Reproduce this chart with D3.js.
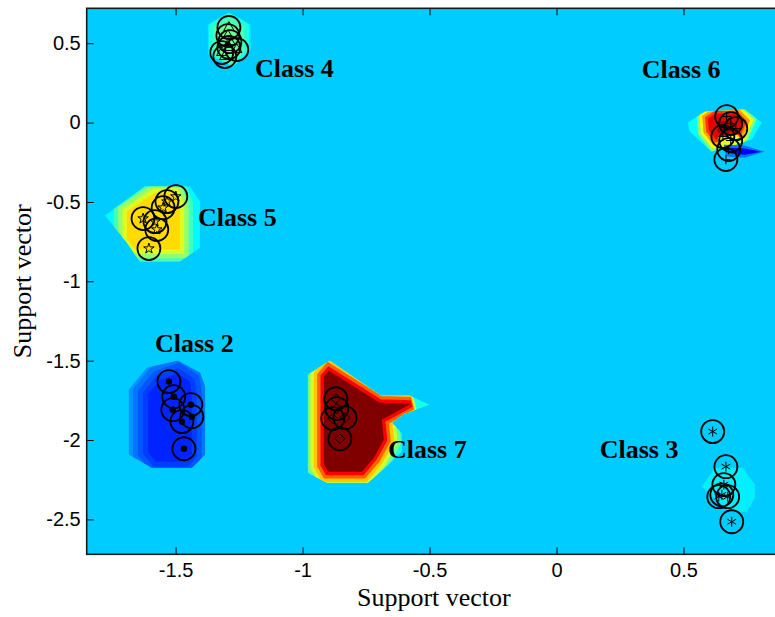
<!DOCTYPE html>
<html>
<head>
<meta charset="utf-8">
<script src="https://cdn.jsdelivr.net/npm/d3@7"></script>
<style>
  body { margin: 0; background: #ffffff; }
  svg { display: block; }
</style>
</head>
<body>
<svg id="chart" width="775" height="617"></svg>
<script>
// ---- axes -------------------------------------------------------------
const xLimits = [-1.85, 0.88];
const yLimits = [-2.72, 0.72];
const xTicks = [-1.5, -1, -0.5, 0, 0.5];
const xTickLabels = ["-1.5", "-1", "-0.5", "0", "0.5"];
const yTicks = [0.5, 0, -0.5, -1, -1.5, -2, -2.5];
const yTickLabels = ["0.5", "0", "-0.5", "-1", "-1.5", "-2", "-2.5"];
const xAxisTitle = "Support vector";
const yAxisTitle = "Support vector";

// ---- decision surface (filled contour levels on the jet map) -----------
const backgroundLevel = 0.325;

const class7Outer = [[-0.893,-1.500],[-0.692,-1.721],[-0.578,-1.721],[-0.500,-1.777],[-0.600,-1.834],
  [-0.648,-1.890],[-0.609,-1.960],[-0.609,-2.074],[-0.684,-2.187],[-0.743,-2.269],[-0.904,-2.269],
  [-0.979,-2.206],[-0.979,-1.588]];
const class7Core = [[-0.896,-1.563],[-0.696,-1.765],[-0.574,-1.771],[-0.637,-1.828],[-0.688,-1.872],
  [-0.680,-1.998],[-0.719,-2.111],[-0.766,-2.200],[-0.900,-2.200],[-0.916,-2.155],[-0.916,-1.601]];
const class7Levels = [0.40, 0.48, 0.58, 0.68, 0.78, 0.88, 1.0];

const class2Outer = [[-1.491,-1.500],[-1.404,-1.576],[-1.384,-1.664],[-1.384,-2.092],[-1.436,-2.174],
  [-1.593,-2.174],[-1.684,-2.092],[-1.684,-1.683],[-1.613,-1.544]];
const class2Core = [[-1.491,-1.582],[-1.444,-1.632],[-1.436,-1.714],[-1.436,-2.092],[-1.459,-2.137],
  [-1.578,-2.137],[-1.609,-2.074],[-1.609,-1.714],[-1.562,-1.620]];
const class2Levels = [0.30, 0.27, 0.24, 0.21, 0.185, 0.16];

const class5Outer = [[-1.778,-0.586],[-1.621,-0.403],[-1.444,-0.403],[-1.404,-0.498],[-1.404,-0.788],
  [-1.483,-0.876],[-1.641,-0.876],[-1.688,-0.763]];
const class5Core = [[-1.692,-0.561],[-1.581,-0.441],[-1.503,-0.441],[-1.483,-0.517],[-1.483,-0.800],
  [-1.660,-0.800],[-1.692,-0.737]];
const class5Levels = [0.37, 0.44, 0.52, 0.59, 0.66];

const class4Outer = [[-1.290,0.693],[-1.204,0.618],[-1.204,0.460],[-1.274,0.353],[-1.373,0.429],[-1.373,0.618]];
const class4Core = [[-1.290,0.637],[-1.247,0.586],[-1.247,0.460],[-1.282,0.397],[-1.333,0.447],[-1.333,0.586]];
const class4Levels = [0.36, 0.41, 0.45, 0.48];

const class6Outer = [[0.517,0.000],[0.584,0.069],[0.741,0.082],[0.808,0.000],[0.769,-0.107],[0.611,-0.183],[0.525,-0.057]];
const class6Core = [[0.596,0.025],[0.627,0.057],[0.706,0.057],[0.737,0.006],[0.714,-0.082],[0.627,-0.107],[0.600,-0.050]];
const class6Levels = [0.38, 0.50, 0.62, 0.72, 0.82, 0.90];
const class6Peak = [[0.635,0.006],[0.690,0.013],[0.706,-0.032],[0.674,-0.069],[0.635,-0.063]];
const class6Saddle = [[0.635,-0.088],[0.714,-0.076],[0.730,-0.120],[0.690,-0.151],[0.643,-0.145]];
const class6TroughOuter = [[0.659,-0.139],[0.741,-0.145],[0.820,-0.183],[0.741,-0.221],[0.667,-0.214]];
const class6Trough = [[0.682,-0.158],[0.741,-0.164],[0.808,-0.183],[0.741,-0.202],[0.686,-0.195]];
const class6ExtraLevels = [0.97, 0.60, 0.24, 0.12];

const class3Outer = [[0.572,-2.294],[0.623,-2.174],[0.733,-2.174],[0.781,-2.281],[0.781,-2.363],[0.749,-2.452],[0.682,-2.452]];
const class3Levels = [0.36];

// ---- support vectors --------------------------------------------------
const class2X = [-1.526, -1.507, -1.440, -1.511, -1.436, -1.475, -1.467];
const class2Y = [-1.632, -1.727, -1.777, -1.809, -1.853, -1.884, -2.055];
const class3X = [0.615, 0.667, 0.659, 0.651, 0.674, 0.639, 0.690];
const class3Y = [-1.947, -2.168, -2.281, -2.345, -2.357, -2.357, -2.515];
const class4X = [-1.290, -1.294, -1.286, -1.290, -1.318, -1.259, -1.306];
const class4Y = [0.599, 0.548, 0.510, 0.473, 0.441, 0.460, 0.416];
const class5X = [-1.499, -1.534, -1.549, -1.628, -1.581, -1.574, -1.605];
const class5Y = [-0.466, -0.498, -0.536, -0.605, -0.624, -0.674, -0.794];
const class6X = [0.670, 0.686, 0.706, 0.655, 0.686, 0.678, 0.667];
const class6Y = [0.038, -0.006, -0.038, -0.088, -0.113, -0.170, -0.233];
const class7X = [-0.869, -0.865, -0.881, -0.833, -0.853];
const class7Y = [-1.740, -1.802, -1.865, -1.859, -1.992];

// ---- class annotations ------------------------------------------------
const classNames = ["Class 4", "Class 6", "Class 5", "Class 2", "Class 7", "Class 3"];
const classLabelX = [-1.187, 0.336, -1.412, -1.581, -0.664, 0.170];
const classLabelY = [0.290, 0.284, -0.649, -1.443, -2.111, -2.111];

// ---------------------------------------------------------------------
const svg = d3.select("#chart");
const frame = { left: 86.7, top: 8.3, right: 780, bottom: 554.3 };

const x = d3.scaleLinear().domain(xLimits).range([frame.left, frame.right]);
const y = d3.scaleLinear().domain(yLimits).range([frame.bottom, frame.top]);

// MATLAB "jet" colormap
const jet = d3.scaleLinear()
  .domain([0, 0.125, 0.375, 0.625, 0.875, 1])
  .range(["#000080", "#0000ff", "#00ffff", "#ffff00", "#ff0000", "#800000"])
  .interpolate(d3.interpolateRgb)
  .clamp(true);

const poly = d3.line().x(d => x(d[0])).y(d => y(d[1])).curve(d3.curveLinearClosed);

const defs = svg.append("defs");
defs.append("clipPath").attr("id", "plot-clip")
  .append("rect")
  .attr("x", frame.left).attr("y", frame.top)
  .attr("width", frame.right - frame.left).attr("height", frame.bottom - frame.top);

const plotArea = svg.append("g").attr("clip-path", "url(#plot-clip)");

plotArea.append("rect")
  .attr("x", frame.left).attr("y", frame.top)
  .attr("width", frame.right - frame.left).attr("height", frame.bottom - frame.top)
  .attr("fill", jet(backgroundLevel));

// Each region: outer contour, inner plateau, and the levels from outside in.
const regions = [
  { id: "c7", outer: class7Outer, core: class7Core, levels: class7Levels, spread: 17 },
  { id: "c2", outer: class2Outer, core: class2Core, levels: class2Levels, spread: 20 },
  { id: "c5", outer: class5Outer, core: class5Core, levels: class5Levels, spread: 13 },
  { id: "c4", outer: class4Outer, core: class4Core, levels: class4Levels, spread: 9 },
  { id: "c6", outer: class6Outer, core: class6Core, levels: class6Levels, spread: 11 },
  { id: "c3", outer: class3Outer, core: null, levels: class3Levels, spread: 0 }
];

const surface = plotArea.append("g").attr("class", "surface");

regions.forEach(r => {
  defs.append("clipPath").attr("id", "clip-" + r.id)
    .append("path").attr("d", poly(r.outer));

  surface.append("path")
    .attr("d", poly(r.outer))
    .attr("fill", jet(r.levels[0]));

  if (!r.core) return;
  const g = surface.append("g").attr("clip-path", `url(#clip-${r.id})`);
  const inner = r.levels.slice(1, -1);
  inner.forEach((lv, k) => {
    const half = r.spread * (inner.length - k) / inner.length;
    g.append("path")
      .attr("d", poly(r.core))
      .attr("fill", jet(lv))
      .attr("stroke", jet(lv))
      .attr("stroke-width", 2 * half)
      .attr("stroke-linejoin", "miter")
      .attr("stroke-miterlimit", 3);
  });
  g.append("path")
    .attr("d", poly(r.core))
    .attr("fill", jet(r.levels[r.levels.length - 1]));
});

// secondary extrema inside the Class 6 region
[[class6Peak, class6ExtraLevels[0]], [class6Saddle, class6ExtraLevels[1]],
 [class6TroughOuter, class6ExtraLevels[2]], [class6Trough, class6ExtraLevels[3]]]
  .forEach(([pts, lv]) => {
    surface.append("path").attr("d", poly(pts)).attr("fill", jet(lv));
  });

// ---- support vectors: marker + ring -----------------------------------
const groups = [
  { xs: class2X, ys: class2Y, marker: "dot" },
  { xs: class3X, ys: class3Y, marker: d3.symbolAsterisk, size: 70 },
  { xs: class4X, ys: class4Y, marker: d3.symbolTriangle, size: 46 },
  { xs: class5X, ys: class5Y, marker: d3.symbolStar, size: 34 },
  { xs: class6X, ys: class6Y, marker: d3.symbolPlus, size: 30 },
  { xs: class7X, ys: class7Y, marker: d3.symbolDiamond2, size: 62 }
];

const pts = plotArea.append("g").attr("class", "support-vectors");
groups.forEach(gr => {
  const data = gr.xs.map((v, i) => [v, gr.ys[i]]);
  const g = pts.append("g");
  if (gr.marker === "dot") {
    g.selectAll("circle.m").data(data).join("circle")
      .attr("class", "m")
      .attr("cx", d => x(d[0])).attr("cy", d => y(d[1]))
      .attr("r", 3.2).attr("fill", "#000");
  } else {
    const sym = d3.symbol(gr.marker, gr.size);
    g.selectAll("path.m").data(data).join("path")
      .attr("class", "m")
      .attr("transform", d => `translate(${x(d[0])},${y(d[1])})`)
      .attr("d", sym)
      .attr("fill", "none")
      .attr("stroke", "#000")
      .attr("stroke-width", 1);
  }
  g.selectAll("circle.ring").data(data).join("circle")
    .attr("class", "ring")
    .attr("cx", d => x(d[0])).attr("cy", d => y(d[1]))
    .attr("r", 11.5)
    .attr("fill", "none")
    .attr("stroke", "#000")
    .attr("stroke-width", 1.8);
});

// ---- class labels -----------------------------------------------------
plotArea.append("g").selectAll("text")
  .data(classNames)
  .join("text")
  .attr("x", (d, i) => x(classLabelX[i]))
  .attr("y", (d, i) => y(classLabelY[i]))
  .attr("font-family", "'Liberation Serif', 'Times New Roman', serif")
  .attr("font-weight", "bold")
  .attr("font-size", 26)
  .attr("fill", "#000")
  .text(d => d);

// ---- axes -------------------------------------------------------------
const tickFont = "'Liberation Sans', Arial, Helvetica, sans-serif";

const xAxis = svg.append("g")
  .attr("transform", `translate(0,${frame.bottom})`)
  .call(d3.axisBottom(x).tickValues(xTicks)
    .tickFormat((d, i) => xTickLabels[i])
    .tickSizeInner(-7).tickSizeOuter(0).tickPadding(9));

const xTop = svg.append("g")
  .attr("transform", `translate(0,${frame.top})`)
  .call(d3.axisTop(x).tickValues(xTicks).tickFormat("")
    .tickSizeInner(-7).tickSizeOuter(0));

const yAxis = svg.append("g")
  .attr("transform", `translate(${frame.left},0)`)
  .call(d3.axisLeft(y).tickValues(yTicks)
    .tickFormat((d, i) => yTickLabels[i])
    .tickSizeInner(-7).tickSizeOuter(0).tickPadding(6));

[xAxis, xTop, yAxis].forEach(a => {
  a.select(".domain").remove();
  a.selectAll(".tick line").attr("stroke", "#000").attr("stroke-width", 1);
  a.selectAll(".tick text")
    .attr("font-family", tickFont)
    .attr("font-size", 20)
    .attr("fill", "#000");
});

svg.append("rect")
  .attr("x", frame.left).attr("y", frame.top)
  .attr("width", frame.right - frame.left).attr("height", frame.bottom - frame.top)
  .attr("fill", "none")
  .attr("stroke", "#1a1a1a")
  .attr("stroke-width", 1.6);

svg.append("text")
  .attr("x", (frame.left + 775) / 2 + 3)
  .attr("y", 606)
  .attr("text-anchor", "middle")
  .attr("font-family", "'Liberation Serif', 'Times New Roman', serif")
  .attr("font-size", 26)
  .attr("fill", "#000")
  .text(xAxisTitle);

svg.append("text")
  .attr("transform", `translate(31,${(frame.top + frame.bottom) / 2}) rotate(-90)`)
  .attr("text-anchor", "middle")
  .attr("font-family", "'Liberation Serif', 'Times New Roman', serif")
  .attr("font-size", 26)
  .attr("fill", "#000")
  .text(yAxisTitle);
</script>
</body>
</html>
